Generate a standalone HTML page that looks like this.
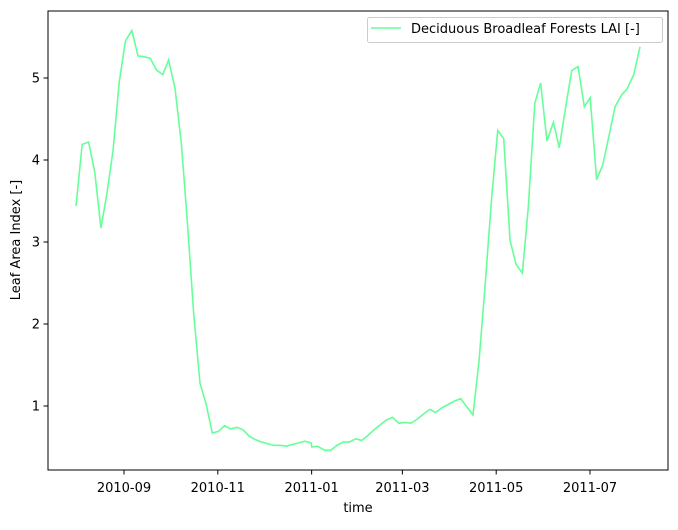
<!DOCTYPE html>
<html><head><meta charset="utf-8"><style>
body{margin:0;background:#fff;}
svg text{font-family:"DejaVu Sans","Liberation Sans",sans-serif;font-size:13px;fill:#000;}
</style></head><body>
<svg id="chart" width="678" height="525" xmlns="http://www.w3.org/2000/svg">
<rect x="0" y="0" width="678" height="525" fill="#fff"/>
<g id="ticks"></g>
<path id="series" fill="none" stroke="#66ff99" stroke-width="1.6"/>
<rect x="48" y="11" width="620" height="459" fill="none" stroke="#000" stroke-width="1"/>
<text x="358" y="512" text-anchor="middle">time</text>
<text x="20" y="240" text-anchor="middle" transform="rotate(-90 20 240)">Leaf Area Index [-]</text>
<g>
<rect x="367.5" y="17.5" width="295" height="25" rx="2" fill="#fff" stroke="#ccc"/>
<line x1="371" y1="28" x2="401" y2="28" stroke="#66ff99" stroke-width="1.6"/>
<text x="411" y="33">Deciduous Broadleaf Forests LAI [-]</text>
</g>
</svg>
<script>
const days = [-31.2,-27.2,-23,-19,-15,-11.1,-7.1,-3.1,0.9,5.1,9.1,13,17.1,21,25.2,29,33.2,37.3,41.1,45.3,49.4,53.3,57.4,61.4,65.4,69.4,73.5,77.4,81.5,85.4,89.5,93.5,97.5,101.4,105.6,109.4,113.6,117.5,121.6,122.2,125.7,130.5,134.4,138.5,142.5,146.5,150.7,154.5,158.6,162.6,166.6,170.6,174.7,178.6,182.7,186.6,190.7,194.6,198.8,202.6,206.8,210.9,214.8,218.9,226.9,230.8,234.7,239.1,243,246.9,251,254.9,259,262.9,267.1,270.9,275,279.2,283,287.2,291.1,295.2,299.3,303.1,307.3,311.3,315.3,319.3,323.4,327.2,331.4,335.5];
const lai = [3.44,4.19,4.22,3.85,3.17,3.59,4.12,4.95,5.45,5.58,5.27,5.26,5.24,5.10,5.04,5.22,4.87,4.20,3.27,2.13,1.28,1.03,0.67,0.69,0.76,0.72,0.74,0.71,0.63,0.59,0.56,0.54,0.52,0.52,0.51,0.53,0.55,0.57,0.55,0.50,0.51,0.46,0.46,0.52,0.56,0.56,0.60,0.58,0.64,0.71,0.77,0.83,0.86,0.79,0.80,0.79,0.84,0.90,0.96,0.92,0.98,1.02,1.06,1.09,0.89,1.54,2.45,3.55,4.36,4.26,3.02,2.73,2.62,3.43,4.69,4.94,4.23,4.46,4.15,4.65,5.09,5.14,4.65,4.76,3.76,3.94,4.29,4.65,4.79,4.87,5.04,5.38];
const xTickDays = [0,61,122,181,242,303];
const xTickLabels = ["2010-09","2010-11","2011-01","2011-03","2011-05","2011-07"];
const yTicks = [1,2,3,4,5];

const NS = "http://www.w3.org/2000/svg";
function xs(d){ return 124 + d * 1.538; }
function ys(v){ return 488 - v * 82; }

const tg = document.getElementById('ticks');
xTickDays.forEach((d,i)=>{
  const x = xs(d);
  const l = document.createElementNS(NS,'line');
  l.setAttribute('x1',x); l.setAttribute('x2',x); l.setAttribute('y1',470); l.setAttribute('y2',474.5);
  l.setAttribute('stroke','#000');
  
  
  tg.appendChild(l);
  const t = document.createElementNS(NS,'text');
  t.setAttribute('x',x); t.setAttribute('y',492); t.setAttribute('text-anchor','middle');
  t.textContent = xTickLabels[i];
  
  
  tg.appendChild(t);
});
yTicks.forEach(v=>{
  const y = ys(v);
  const l = document.createElementNS(NS,'line');
  l.setAttribute('x1',43.5); l.setAttribute('x2',48); l.setAttribute('y1',y); l.setAttribute('y2',y);
  l.setAttribute('stroke','#000');
  
  
  tg.appendChild(l);
  const t = document.createElementNS(NS,'text');
  t.setAttribute('x',40); t.setAttribute('y',y+4.5); t.setAttribute('text-anchor','end');
  t.textContent = String(v);
  
  
  tg.appendChild(t);
});
let dstr = '';
days.forEach((d,i)=>{ dstr += (i?'L':'M') + xs(d).toFixed(2) + ' ' + ys(lai[i]).toFixed(2) + ' '; });
document.getElementById('series').setAttribute('d', dstr);
</script>
</body></html>
